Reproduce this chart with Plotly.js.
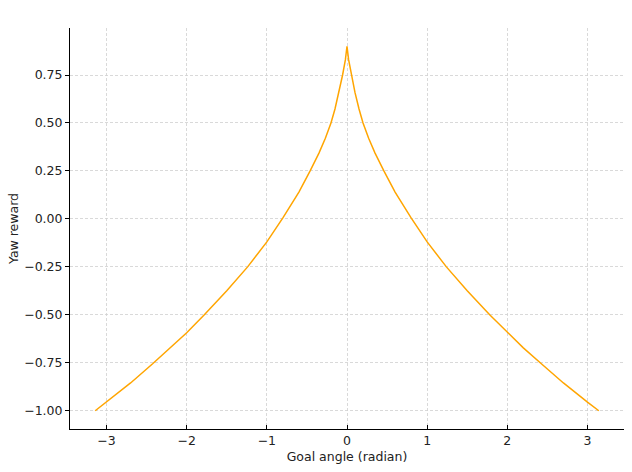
<!DOCTYPE html>
<html>
<head>
<meta charset="utf-8">
<script src="https://cdn.plot.ly/plotly-3.0.1.min.js"></script>
<style>
  html, body { margin: 0; padding: 0; background: #fff; }
  #yaw_plot { width: 632px; height: 472px; }
</style>
</head>
<body>
<div id="yaw_plot"></div>
<script>
// goal angle (rad) and yaw reward (curve is symmetric about 0)
const goal_angle = [-3.1416, -3.0, -2.7, -2.425, -2.2, -2.0, -1.78, -1.5, -1.24, -1.0, -0.8, -0.6, -0.46, -0.35, -0.27, -0.2, -0.15, -0.1, -0.055, -0.02, 0.0,
                    0.02, 0.055, 0.1, 0.15, 0.2, 0.27, 0.35, 0.46, 0.6, 0.8, 1.0, 1.24, 1.5, 1.78, 2.0, 2.2, 2.425, 2.7, 3.0, 3.1416];
const yaw_reward = [-1.0, -0.955, -0.855, -0.755, -0.672, -0.593, -0.5, -0.375, -0.25, -0.12, 0.005, 0.14, 0.25, 0.343, 0.42, 0.5, 0.573, 0.658, 0.75, 0.83, 0.9,
                    0.83, 0.75, 0.658, 0.573, 0.5, 0.42, 0.343, 0.25, 0.14, 0.005, -0.12, -0.25, -0.375, -0.5, -0.593, -0.672, -0.755, -0.855, -0.955, -1.0];

const x_ticks = [-3, -2, -1, 0, 1, 2, 3];
const x_tick_labels = ["\u22123", "\u22122", "\u22121", "0", "1", "2", "3"];
const y_ticks = [-1.0, -0.75, -0.5, -0.25, 0.0, 0.25, 0.5, 0.75];
const y_tick_labels = ["\u22121.00", "\u22120.75", "\u22120.50", "\u22120.25", "0.00", "0.25", "0.50", "0.75"];

function yaw_init()
{
    const plot_div = document.getElementById("yaw_plot");
    const font = {family: "DejaVu Sans", size: 12.5, color: "#222"};
    const grid = {showgrid: true, gridcolor: "#d0d0d0", gridwidth: 0.8, griddash: "3px,2px", zeroline: false};
    const trace = {x: goal_angle, y: yaw_reward, mode: "lines", line: {color: "#FFA500", width: 1.5}, hoverinfo: "none"};
    const layout = {
        width: 632, height: 472,
        margin: {l: 70, r: 8, t: 28, b: 43},
        paper_bgcolor: "#fff", plot_bgcolor: "#fff",
        font: font, showlegend: false,
        xaxis: Object.assign({
            range: [-3.456, 3.456], tickvals: x_ticks, ticktext: x_tick_labels,
            ticks: "inside", ticklen: 4, tickcolor: "#000",
            showline: true, linecolor: "#000", linewidth: 1,
            title: {text: "Goal angle (radian)", font: {size: 12.5}, standoff: 5}
        }, grid),
        yaxis: Object.assign({
            range: [-1.095, 0.995], tickvals: y_ticks, ticktext: y_tick_labels,
            ticks: "outside", ticklen: 4, tickcolor: "#000",
            showline: true, linecolor: "#000", linewidth: 1,
            title: {text: "Yaw reward", font: {size: 12.5}, standoff: 2}
        }, grid)
    };
    Plotly.newPlot(plot_div, [trace], layout, {displayModeBar: false, staticPlot: true});
}

yaw_init();
</script>
</body>
</html>
